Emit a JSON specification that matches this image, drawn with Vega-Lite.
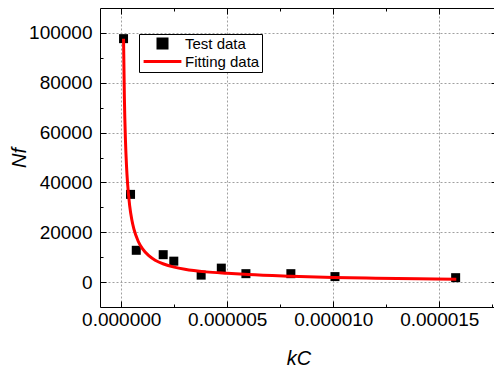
{
  "$schema": "https://vega.github.io/schema/vega-lite/v6.json",
  "width": 397,
  "height": 299,
  "autosize": {"type": "none"},
  "padding": {"left": 100, "top": 8, "right": 0, "bottom": 62},
  "config": {
    "view": {"stroke": null},
    "font": "Liberation Sans",
    "axis": {
      "domainColor": "black",
      "tickColor": "black",
      "labelColor": "black",
      "titleColor": "black",
      "labelFont": "Liberation Sans",
      "titleFont": "Liberation Sans",
      "labelFontSize": 19,
      "titleFontSize": 20,
      "titleFontWeight": "normal",
      "gridColor": "#a0a0a0",
      "gridDash": [2, 2],
      "gridWidth": 1
    },
    "legend": {
      "orient": "none",
      "legendX": 39,
      "legendY": 26,
      "padding": 2,
      "rowPadding": 0,
      "strokeColor": "black",
      "fillColor": "white",
      "cornerRadius": 0,
      "labelFont": "Liberation Sans",
      "labelFontSize": 15,
      "labelColor": "black",
      "symbolSize": 81,
      "symbolOffset": 14,
      "labelOffset": 15
    }
  },
  "datasets": {
    "test": [
      {"kc": 1.1e-7, "Nf": 97700, "series": "Test data"},
      {"kc": 4.4e-7, "Nf": 35200, "series": "Test data"},
      {"kc": 7.1e-7, "Nf": 12760, "series": "Test data"},
      {"kc": 1.98e-6, "Nf": 11000, "series": "Test data"},
      {"kc": 2.48e-6, "Nf": 8400, "series": "Test data"},
      {"kc": 3.77e-6, "Nf": 2800, "series": "Test data"},
      {"kc": 4.72e-6, "Nf": 5600, "series": "Test data"},
      {"kc": 5.88e-6, "Nf": 3380, "series": "Test data"},
      {"kc": 8.0e-6, "Nf": 3380, "series": "Test data"},
      {"kc": 1.008e-5, "Nf": 2200, "series": "Test data"},
      {"kc": 1.577e-5, "Nf": 1770, "series": "Test data"}
    ],
    "fit": [
      {"kc": 1.1e-7, "Nf": 97700, "series": "Fitting data"},
      {"kc": 1.5e-7, "Nf": 73900, "series": "Fitting data"},
      {"kc": 2.0e-7, "Nf": 57050, "series": "Fitting data"},
      {"kc": 2.5e-7, "Nf": 46660, "series": "Fitting data"},
      {"kc": 3.0e-7, "Nf": 39610, "series": "Fitting data"},
      {"kc": 4.0e-7, "Nf": 30570, "series": "Fitting data"},
      {"kc": 5.0e-7, "Nf": 25000, "series": "Fitting data"},
      {"kc": 6.0e-7, "Nf": 21220, "series": "Fitting data"},
      {"kc": 8.0e-7, "Nf": 16380, "series": "Fitting data"},
      {"kc": 1.0e-6, "Nf": 13410, "series": "Fitting data"},
      {"kc": 1.3e-6, "Nf": 10580, "series": "Fitting data"},
      {"kc": 1.6e-6, "Nf": 8790, "series": "Fitting data"},
      {"kc": 2.0e-6, "Nf": 7250, "series": "Fitting data"},
      {"kc": 2.5e-6, "Nf": 6000, "series": "Fitting data"},
      {"kc": 3.0e-6, "Nf": 5150, "series": "Fitting data"},
      {"kc": 4.0e-6, "Nf": 4100, "series": "Fitting data"},
      {"kc": 5.0e-6, "Nf": 3500, "series": "Fitting data"},
      {"kc": 6.0e-6, "Nf": 3000, "series": "Fitting data"},
      {"kc": 8.0e-6, "Nf": 2350, "series": "Fitting data"},
      {"kc": 1.0e-5, "Nf": 1850, "series": "Fitting data"},
      {"kc": 1.2e-5, "Nf": 1550, "series": "Fitting data"},
      {"kc": 1.4e-5, "Nf": 1300, "series": "Fitting data"},
      {"kc": 1.58e-5, "Nf": 1100, "series": "Fitting data"}
    ]
  },
  "layer": [
    {
      "data": {"name": "test"},
      "mark": {"type": "point", "shape": "square", "filled": true, "size": 81, "opacity": 1},
      "encoding": {
        "x": {
          "field": "kc", "type": "quantitative",
          "scale": {"domain": [-0.000001, 0.00001772], "nice": false, "zero": false},
          "axis": {
            "orient": "bottom",
            "title": "kC",
            "titleFontStyle": "italic",
            "titlePadding": 19,
            "values": [0, 0.0000025, 0.000005, 0.0000075, 0.00001, 0.0000125, 0.000015, 0.0000175],
            "format": ".6f",
            "labelExpr": "abs(datum.value*2e5 - round(datum.value*2e5)) < 0.01 ? datum.label : ''",
            "labelPadding": 9,
            "tickSize": {"condition": {"test": "abs(datum.value*2e5 - round(datum.value*2e5)) > 0.01", "value": -3}, "value": -6},
            "gridOpacity": {"condition": {"test": "abs(datum.value*2e5 - round(datum.value*2e5)) > 0.01", "value": 0}, "value": 1},
            "labelFlush": false
          }
        },
        "y": {
          "field": "Nf", "type": "quantitative",
          "scale": {"domain": [-10000, 110000], "nice": false, "zero": false},
          "axis": {
            "orient": "left",
            "title": "Nf",
            "titleFontStyle": "italic",
            "titlePadding": -1,
            "values": [0, 10000, 20000, 30000, 40000, 50000, 60000, 70000, 80000, 90000, 100000],
            "format": "d",
            "labelExpr": "datum.value % 20000 == 0 ? datum.label : ''",
            "labelPadding": 14,
            "tickSize": {"condition": {"test": "datum.value % 20000 != 0", "value": -3}, "value": -6},
            "gridOpacity": {"condition": {"test": "datum.value % 20000 != 0", "value": 0}, "value": 1}
          }
        },
        "color": {
          "field": "series", "type": "nominal",
          "scale": {"domain": ["Test data", "Fitting data"], "range": ["black", "red"]},
          "legend": {
            "title": null,
            "encode": {
              "symbols": {
                "update": {
                  "shape": {"signal": "datum.value === 'Test data' ? 'M-4.2,0L-4.2,0M-1,-1H1V1H-1Z' : 'M-4.2,0H4.2'"},
                  "fill": {"signal": "datum.value === 'Test data' ? 'black' : 'transparent'"},
                  "stroke": {"signal": "datum.value === 'Test data' ? 'transparent' : 'red'"},
                  "strokeWidth": {"value": 3},
                  "opacity": {"value": 1}
                }
              }
            }
          }
        }
      }
    },
    {
      "data": {"name": "fit"},
      "mark": {"type": "line", "strokeWidth": 3, "interpolate": "monotone"},
      "encoding": {
        "x": {
          "field": "kc", "type": "quantitative",
          "axis": {
            "orient": "top",
            "title": null,
            "labels": false,
            "grid": false,
            "values": [0, 0.0000025, 0.000005, 0.0000075, 0.00001, 0.0000125, 0.000015],
            "tickSize": {"condition": {"test": "abs(datum.value*2e5 - round(datum.value*2e5)) > 0.01", "value": -3}, "value": -6}
          }
        },
        "y": {
          "field": "Nf", "type": "quantitative",
          "axis": {
            "orient": "right",
            "title": null,
            "labels": false,
            "grid": false,
            "domain": false,
            "values": [0, 10000, 20000, 30000, 40000, 50000, 60000, 70000, 80000, 90000, 100000],
            "tickSize": {"condition": {"test": "datum.value % 20000 != 0", "value": -3}, "value": -6}
          }
        },
        "color": {
          "field": "series", "type": "nominal",
          "legend": {
            "title": null,
            "encode": {
              "symbols": {
                "update": {
                  "shape": {"signal": "datum.value === 'Test data' ? 'M-4.2,0L-4.2,0M-1,-1H1V1H-1Z' : 'M-4.2,0H4.2'"},
                  "fill": {"signal": "datum.value === 'Test data' ? 'black' : 'transparent'"},
                  "stroke": {"signal": "datum.value === 'Test data' ? 'transparent' : 'red'"},
                  "strokeWidth": {"value": 3},
                  "opacity": {"value": 1}
                }
              }
            }
          }
        }
      }
    }
  ],
  "resolve": {"axis": {"x": "independent", "y": "independent"}}
}
